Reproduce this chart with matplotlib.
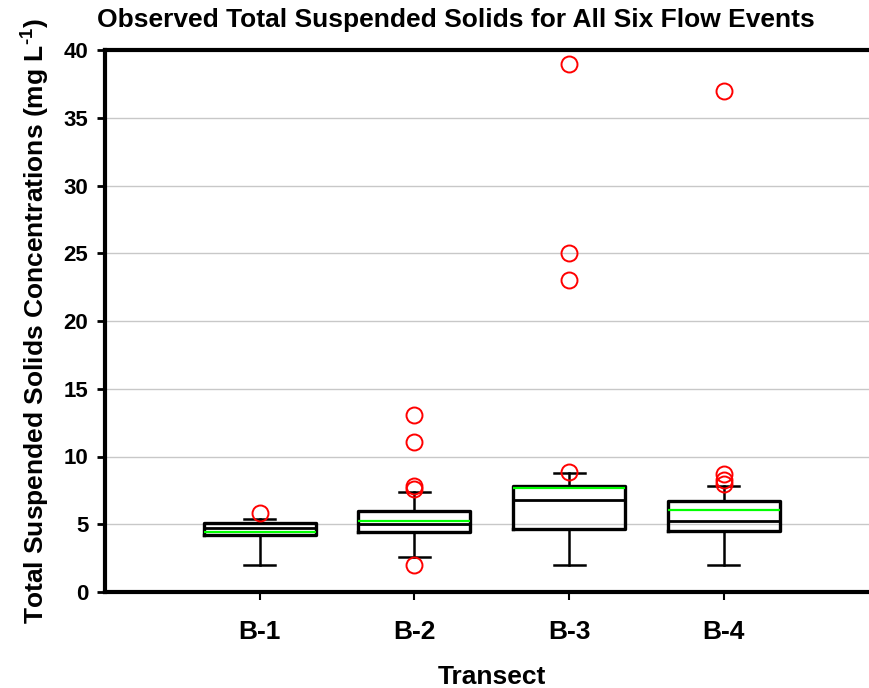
import matplotlib
matplotlib.use("Agg")
import matplotlib.pyplot as plt

plt.rcParams['font.family'] = ['Liberation Sans', 'DejaVu Sans']
plt.rcParams['font.weight'] = 'bold'
plt.rcParams['mathtext.fontset'] = 'custom'
plt.rcParams['mathtext.rm'] = 'Liberation Sans:bold'
plt.rcParams['mathtext.bf'] = 'Liberation Sans:bold'

categories = ["B-1", "B-2", "B-3", "B-4"]
q1 = [4.2, 4.45, 4.62, 4.5]
medians = [4.75, 5.02, 6.79, 5.27]
q3 = [5.09, 6.0, 7.82, 6.74]
whisker_low = [2.0, 2.6, 2.0, 2.0]
whisker_high = [5.39, 7.4, 8.76, 7.82]
means = [4.4, 5.27, 7.65, 6.05]
outliers = [
    [5.85],
    [2.0, 7.6, 7.8, 11.07, 13.06],
    [8.83, 23.0, 25.04, 39.0],
    [8.0, 8.26, 8.7, 37.0],
]
yticks = [0, 5, 10, 15, 20, 25, 30, 35, 40]

fig = plt.figure(figsize=(8.69, 6.88), dpi=100)
ax = fig.add_axes([105 / 869, 96 / 688, 773.5 / 869, 542 / 688])

stats = []
for i, name in enumerate(categories):
    stats.append(dict(label=name, q1=q1[i], med=medians[i], q3=q3[i],
                      whislo=whisker_low[i], whishi=whisker_high[i],
                      mean=means[i], fliers=outliers[i]))

positions = list(range(1, len(categories) + 1))
ax.bxp(stats, positions=positions, widths=0.725, capwidths=0.2,
       showmeans=True, meanline=True, patch_artist=False,
       boxprops=dict(color='black', linewidth=2.4),
       medianprops=dict(color='black', linewidth=2.0),
       meanprops=dict(color='#00ff00', linewidth=1.6, linestyle='-'),
       whiskerprops=dict(color='black', linewidth=1.8),
       capprops=dict(color='black', linewidth=1.8),
       flierprops=dict(marker='o', markerfacecolor='none', markeredgecolor='red',
                       markersize=11.5, markeredgewidth=1.4),
       zorder=3)

ax.set_xlim(0, 5)
ax.set_ylim(0, 40)
ax.set_yticks(yticks)
ax.set_xticks(positions)
ax.set_xticklabels(categories, fontsize=19, fontweight='bold')
for lab in ax.get_yticklabels():
    lab.set_fontsize(16)
    lab.set_fontweight('bold')

ax.yaxis.grid(True, color='#c8c8c8', linewidth=1.0, zorder=0)
ax.set_axisbelow(True)

for side in ['left', 'bottom', 'top']:
    ax.spines[side].set_linewidth(3.0)
    ax.spines[side].set_color('black')
ax.spines['right'].set_visible(False)

ax.tick_params(axis='y', direction='out', length=6, width=2, pad=6)
ax.tick_params(axis='x', direction='out', length=6, width=1.5, pad=14)

ax.set_ylabel(r"Total Suspended Solids Concentrations (mg L$^{\text{-1}}$)",
              fontsize=19, fontweight='bold', labelpad=9)
ax.set_xlabel("Transect", fontsize=19, fontweight='bold', labelpad=15)

fig.text(456 / 869, 1 - 20 / 688, "Observed Total Suspended Solids for All Six Flow Events",
         ha='center', va='center', fontsize=19, fontweight='bold')

fig.savefig("out.png", dpi=100)
